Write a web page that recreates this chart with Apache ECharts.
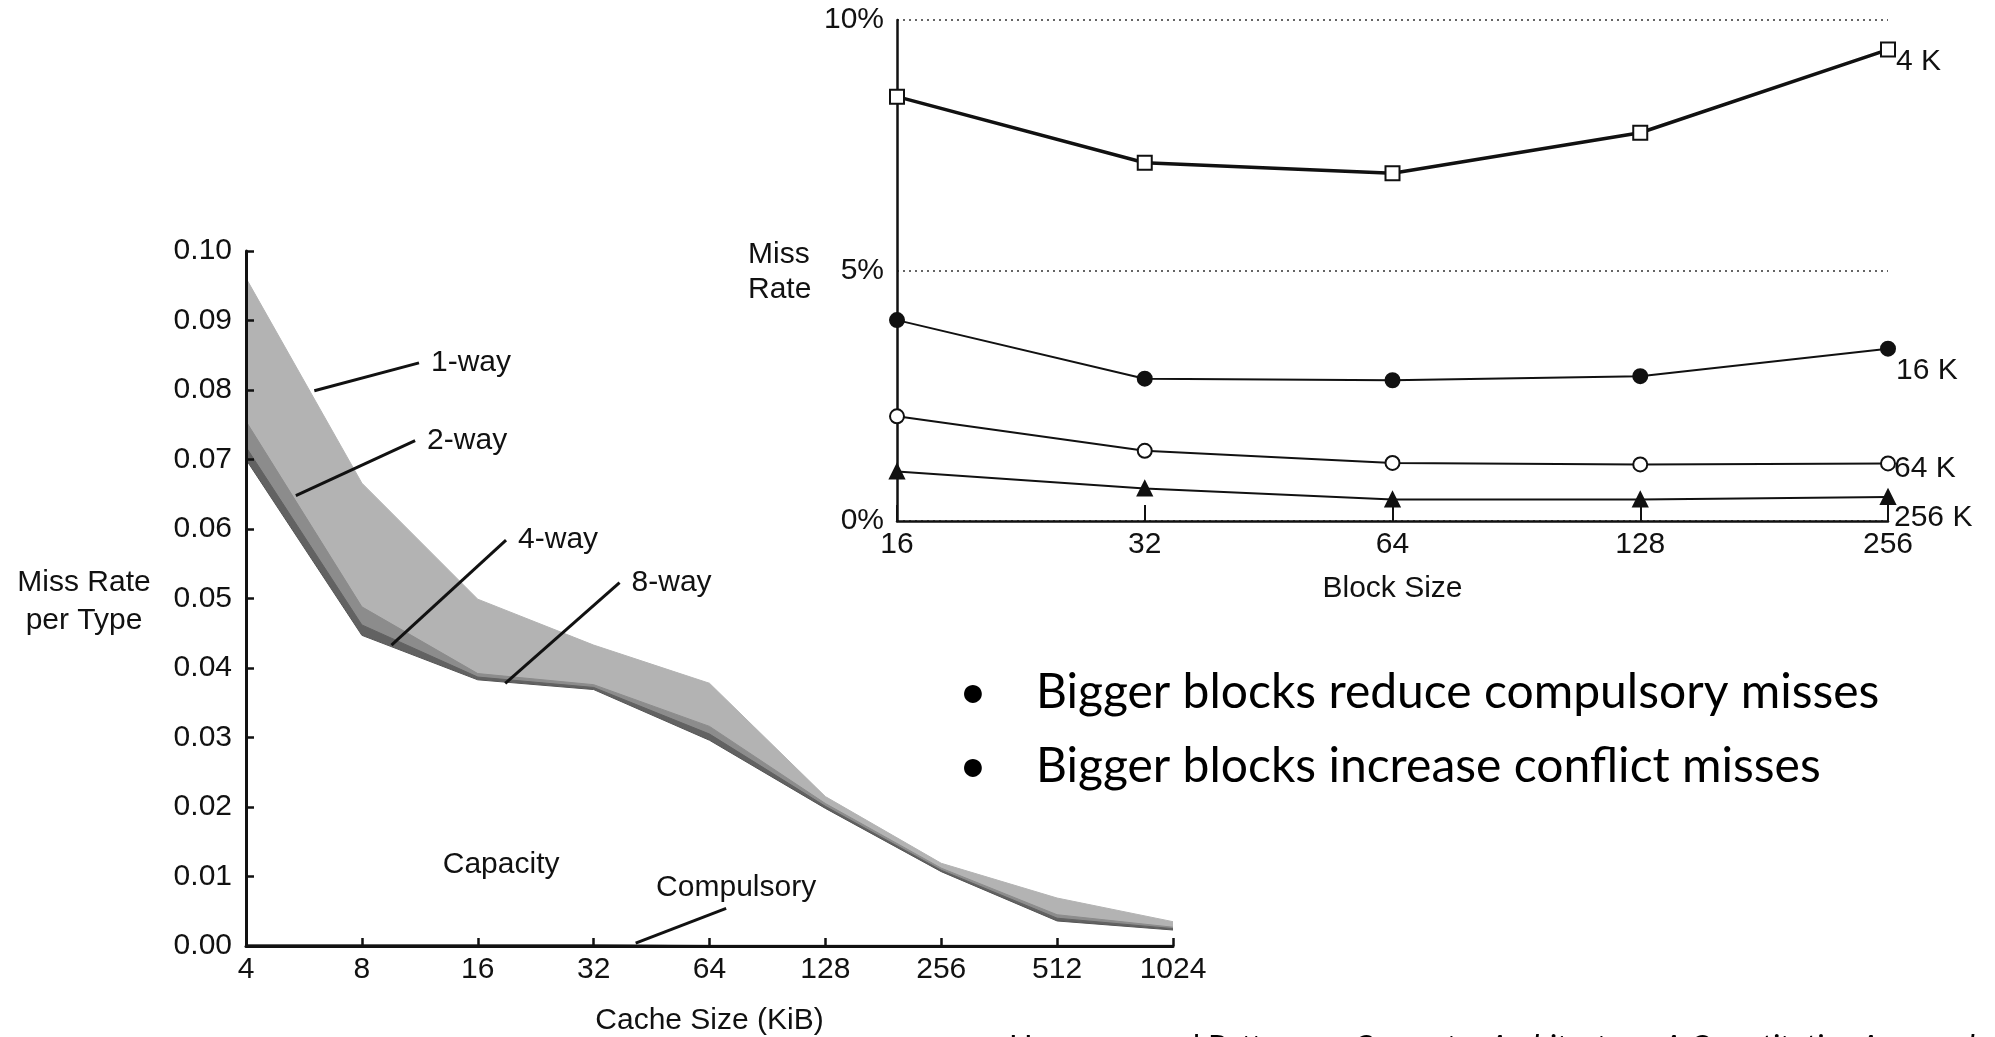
<!DOCTYPE html>
<html>
  <head>
    <title>Miss rate by cache size and block size</title>
    <meta charset="UTF-8" />
    <script src="https://cdn.jsdelivr.net/npm/echarts@6/dist/echarts.min.js"></script>
    <style>
      html, body { margin: 0; padding: 0; background: #fff; }
    </style>
  </head>
  <body>
    <div id="main"></div>
    <script>
      const width = 1995;
      const height = 1037;
      const main = document.getElementById('main');
      main.style.width = `${width}px`;
      main.style.height = `${height}px`;

      // left chart: miss rate per type against cache size (KiB)
      const cacheSizes = [4, 8, 16, 32, 64, 128, 256, 512, 1024];
      const oneWay = [0.0961, 0.0666, 0.0499, 0.0433, 0.0378, 0.0215, 0.0119, 0.0069, 0.0035];
      const twoWay = [0.0755, 0.0488, 0.0392, 0.0376, 0.0316, 0.0205, 0.0112, 0.0045, 0.0027];
      const fourWay = [0.0718, 0.0462, 0.0387, 0.0372, 0.0305, 0.0201, 0.0109, 0.0040, 0.0025];
      const eightWay = [0.0700, 0.0447, 0.0383, 0.0369, 0.0296, 0.0198, 0.0107, 0.0036, 0.0023];
      const compulsory = [0.0002, 0.0002, 0.0002, 0.0002, 0.0001, 0.0001, 0.0001, 0.0001, 0.0001];

      // pointer lines and their labels, in data units of the left chart
      const pointerNames = ['1-way', '2-way', '4-way', '8-way'];
      const pointerFrom = [[6.02, 0.0799], [5.39, 0.0648], [9.55, 0.0433], [18.86, 0.0378]];
      const pointerTo = [[11.26, 0.0839], [11.0, 0.0727], [18.95, 0.0584], [37.37, 0.0523]];
      const compulsoryPointer = [[41.15, 0.0004], [70.7, 0.0054]];
      const capacityAt = [18.4, 0.0117];

      // right chart: miss rate (%) against block size, one line per cache size
      const blockSizes = [16, 32, 64, 128, 256];
      const cacheNames = ['4 K', '16 K', '64 K', '256 K'];
      const miss4K = [8.47, 7.15, 6.94, 7.75, 9.41];
      const miss16K = [4.01, 2.84, 2.81, 2.89, 3.44];
      const miss64K = [2.09, 1.40, 1.16, 1.13, 1.15];
      const miss256K = [0.99, 0.65, 0.43, 0.43, 0.48];

      const ink = '#111111';
      const font = 'Liberation Sans, Arial, sans-serif';
      const fs = 30;
      const pairs = (xs, ys) => xs.map((x, i) => [x, ys[i]]);

      const band = (name, values, fill, line) => ({
        name: name,
        type: 'line',
        xAxisIndex: 0,
        yAxisIndex: 0,
        data: pairs(cacheSizes, values),
        symbol: 'none',
        silent: true,
        lineStyle: { color: line || fill, width: 1 },
        areaStyle: { color: fill, opacity: 1 },
      });

      const missLine = (name, values, symbol, lineWidth, dx, dy) => ({
        name: name,
        type: 'line',
        xAxisIndex: 1,
        yAxisIndex: 1,
        data: pairs(blockSizes, values),
        symbol: symbol,
        symbolSize: 14,
        showAllSymbol: true,
        lineStyle: { color: ink, width: lineWidth },
        itemStyle: { color: ink, borderColor: ink, borderWidth: 2 },
        endLabel: {
          show: true,
          formatter: name,
          color: ink,
          fontFamily: font,
          fontSize: fs,
          distance: 5,
          offset: [dx, dy],
        },
      });

      const text = (x, y, str, extra) => ({
        type: 'text',
        x: x,
        y: y,
        z: 20,
        silent: true,
        style: Object.assign(
          { text: str, fontFamily: font, fontSize: fs, fill: ink, align: 'left', verticalAlign: 'middle' },
          extra || {}
        ),
      });

      const myChart = echarts.init(main);
      const option = {
        animation: false,
        textStyle: { fontFamily: font, color: ink },
        grid: [
          { left: 246, top: 251, right: 822, bottom: 91, outerBoundsMode: 'none' },
          { left: 897, top: 20, right: 107, bottom: 516, outerBoundsMode: 'none' },
        ],
        xAxis: [
          {
            gridIndex: 0,
            type: 'log',
            logBase: 2,
            min: 4,
            max: 1024,
            interval: 1,
            z: 10,
            name: 'Cache Size (KiB)',
            nameLocation: 'middle',
            nameGap: 60,
            nameTextStyle: { fontSize: fs, color: ink },
            axisLine: { lineStyle: { color: ink, width: 3 } },
            axisTick: { inside: true, length: 8, lineStyle: { color: ink, width: 2.5 } },
            axisLabel: { fontSize: fs, color: ink, margin: 9, formatter: (v) => String(v) },
            splitLine: { show: false },
            minorTick: { show: false },
          },
          {
            gridIndex: 1,
            type: 'log',
            logBase: 2,
            min: 16,
            max: 256,
            interval: 1,
            name: 'Block Size',
            nameLocation: 'middle',
            nameGap: 53,
            nameTextStyle: { fontSize: fs, color: ink },
            axisLine: { lineStyle: { color: ink, width: 2.5 } },
            axisTick: { inside: true, length: 16, lineStyle: { color: ink, width: 2 } },
            axisLabel: { fontSize: fs, color: ink, margin: 9, formatter: (v) => String(v) },
            splitLine: { show: false },
            minorTick: { show: false },
          },
        ],
        yAxis: [
          {
            gridIndex: 0,
            type: 'value',
            min: 0,
            max: 0.1,
            interval: 0.01,
            z: 10,
            axisLine: { show: true, lineStyle: { color: ink, width: 3 } },
            axisTick: { show: true, inside: true, length: 8, lineStyle: { color: ink, width: 2.5 } },
            axisLabel: { fontSize: fs, color: ink, margin: 14, formatter: (v) => v.toFixed(2) },
            splitLine: { show: false },
          },
          {
            gridIndex: 1,
            type: 'value',
            min: 0,
            max: 10,
            interval: 5,
            axisLine: { show: true, lineStyle: { color: ink, width: 2.5 } },
            axisTick: { show: false },
            axisLabel: { fontSize: fs, color: ink, margin: 13, formatter: (v) => v + '%' },
            splitLine: { show: true, lineStyle: { color: '#333', width: 1.5, type: [2, 4] } },
          },
        ],
        series: [
          band('1-way', oneWay, '#b3b3b3'),
          band('2-way', twoWay, '#8c8c8c'),
          band('4-way', fourWay, '#626262'),
          band('8-way', eightWay, '#ffffff', '#555555'),
          band('Compulsory', compulsory, '#555555'),
          {
            type: 'lines',
            coordinateSystem: 'cartesian2d',
            xAxisIndex: 0,
            yAxisIndex: 0,
            silent: true,
            z: 5,
            lineStyle: { color: '#111', width: 3, opacity: 1 },
            data: pointerFrom
              .map((p, i) => ({ coords: [p, pointerTo[i]] }))
              .concat([{ coords: compulsoryPointer }]),
          },
          missLine(cacheNames[0], miss4K, 'emptyRect', 3.5, 3, 12),
          missLine(cacheNames[1], miss16K, 'circle', 2, 3, 22),
          missLine(cacheNames[2], miss64K, 'emptyCircle', 2, 1, 5),
          missLine(cacheNames[3], miss256K, 'triangle', 2, 1, 21),
        ],
      };
      myChart.setOption(option);

      // free texts; chart annotations are placed through the left grid's scales
      const toPx = (p) => myChart.convertToPixel({ gridIndex: 0 }, p);
      const graphics = [
        text(84, 602, 'Miss Rate\nper Type', { align: 'center', lineHeight: 38 }),
        text(748, 272, 'Miss\nRate', { lineHeight: 35 }),
        text(973, 693, '•', { fontFamily: 'Lato', fontSize: 48, fill: '#000', align: 'center' }),
        text(1036, 693, 'Bigger blocks reduce compulsory misses', { fontFamily: 'Lato', fontSize: 48, fill: '#000' }),
        text(973, 767, '•', { fontFamily: 'Lato', fontSize: 48, fill: '#000', align: 'center' }),
        text(1036, 767, 'Bigger blocks increase conflict misses', { fontFamily: 'Lato', fontSize: 48, fill: '#000' }),
        text(1009, 1047, '{n|Hennessy and Patterson, }{i|Computer Architecture: A Quantitative Approach}', {
          rich: {
            n: { fontFamily: 'Lato', fontSize: 31, fill: '#000' },
            i: { fontFamily: 'Lato', fontSize: 31, fontStyle: 'italic', fill: '#000' },
          },
        }),
      ];
      pointerTo.forEach((p, i) => {
        const px = toPx(p);
        graphics.push(text(px[0] + 12, px[1], pointerNames[i]));
      });
      const cp = toPx(compulsoryPointer[1]);
      graphics.push(text(cp[0] + 10, cp[1] - 21, 'Compulsory', { align: 'center' }));
      const cap = toPx(capacityAt);
      graphics.push(text(cap[0], cap[1], 'Capacity', { align: 'center' }));
      myChart.setOption({ graphic: graphics });
    </script>
  </body>
</html>
